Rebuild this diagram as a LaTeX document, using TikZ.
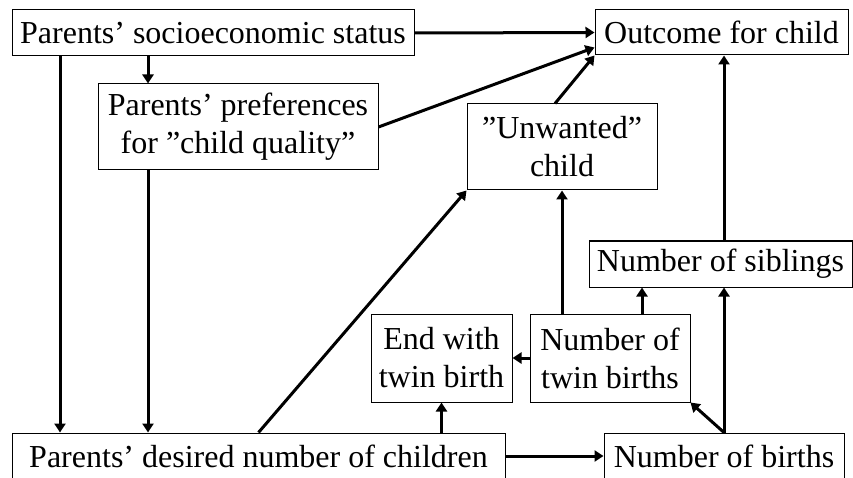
\documentclass[tikz,border=0pt]{standalone}
\usepackage{fontspec}
\setmainfont{Liberation Serif}
\usetikzlibrary{arrows.meta}

\begin{document}
\begin{tikzpicture}[x=1pt, y=-1pt,
  box/.style={draw, line width=1pt, inner sep=0pt, align=center,
    font=\fontsize{32}{38}\selectfont},
  arr/.style={line width=3pt, -{Triangle[length=9pt,width=11pt]}}]
\useasboundingbox (0,0) rectangle (853,478);
\node[box, minimum width=402pt, minimum height=46pt] (ses) at (213,33) {Parents’ socioeconomic status};
\node[box, minimum width=280pt, minimum height=86pt] (pref) at (238,127) {Parents’ preferences\\for ”child quality”};
\node[box, minimum width=253pt, minimum height=45pt] (out) at (721.5,32.5) {Outcome for child};
\node[box, minimum width=190pt, minimum height=86pt] (unw) at (562,147) {”Unwanted”\\child};
\node[box, minimum width=263pt, minimum height=46pt] (sib) at (720.5,264) {Number of siblings};
\node[box, minimum width=141pt, minimum height=88pt] (end) at (441.5,358) {End with\\twin birth};
\node[box, minimum width=160pt, minimum height=88pt] (twin) at (610,358) {Number of\\twin births};
\node[box, minimum width=240pt, minimum height=46pt] (births) at (724,456) {Number of births};
\node[box, minimum width=493pt, minimum height=46pt] (desired) at (258.5,456) {Parents’ desired number of children};
\coordinate (c1) at (148,0);
\coordinate (c2) at (60,0);
\coordinate (c3) at (642,0);
\draw[arr] (ses.east) -- (out.west);
\draw[arr] (ses.south -| c1) -- (pref.north -| c1);
\draw[arr] (ses.south -| c2) -- (desired.north -| c2);
\draw[arr] (pref.east) -- ([yshift=-15pt]out.west);
\draw[arr] (pref.south -| c1) -- (desired.north -| c1);
\draw[arr] (desired.north) -- (unw.south west);
\draw[arr] ([xshift=-7pt]unw.north) -- (out.south west);
\draw[arr] (sib.north -| births.north) -- (out.south -| births.north);
\draw[arr] (twin.north -| c3) -- (sib.south -| c3);
\draw[arr] (twin.west) -- (end.east);
\draw[arr] (twin.north -| unw.south) -- (unw.south);
\draw[arr] (desired.north -| end.south) -- (end.south);
\draw[arr] (desired.east) -- (births.west);
\draw[arr] (births.north) -- (sib.south -| births.north);
\draw[arr] (births.north) -- (twin.south east);
\end{tikzpicture}
\end{document}
